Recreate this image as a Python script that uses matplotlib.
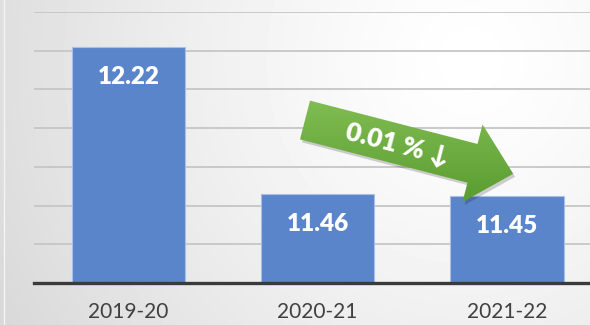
import numpy as np
import matplotlib
matplotlib.use("Agg")
import matplotlib.pyplot as plt
from matplotlib.patches import Polygon

years = ["2019-20", "2020-21", "2021-22"]
values = [12.22, 11.46, 11.45]
change_label = "0.01 % \u2193"

W, H = 590, 325
fig = plt.figure(figsize=(W / 100, H / 100), dpi=100)

# soft radial background
bg = fig.add_axes([0, 0, 1, 1], zorder=0)
yy, xx = np.mgrid[0:H, 0:W]
d = np.hypot(xx - 470, yy - 60) / 560.0
shade = 1.0 - 0.16 * np.clip(d, 0, 1.2) ** 1.3
bg.imshow(shade, cmap="gray", vmin=0, vmax=1, extent=[0, W, H, 0], aspect="auto")
bg.plot([3.5, 3.5], [0, H], color="#f4f4f4", lw=1.0)
bg.set_xlim(0, W)
bg.set_ylim(H, 0)
bg.axis("off")

# bar chart
ax = fig.add_axes([34 / W, 42 / H, (W - 34) / W, (283 - 12) / H], zorder=1)
ax.patch.set_alpha(0)
x = np.arange(len(years))
bars = ax.bar(x, values, width=0.6, color="#5b85cb", edgecolor="#a8c0e6",
              linewidth=0.8, zorder=3)
ax.set_xlim(-0.5, 2.44)
ax.set_ylim(11.0, 12.4)
ax.set_yticks(np.arange(11.0, 12.41, 0.2))
ax.yaxis.grid(True, color="#c6c6c6", lw=1.3, zorder=1)
ax.set_axisbelow(True)
ax.tick_params(axis="y", left=False, labelleft=False)
ax.tick_params(axis="x", length=0, pad=14, labelsize=15, labelcolor="#404040")
ax.set_xticks(x)
ax.set_xticklabels(years, fontfamily="Lato")
for s in ax.spines.values():
    s.set_visible(False)
ax.axhline(11.0, color="#3a3a3a", lw=2.4, zorder=4, clip_on=False)

for xi, v in zip(x, values):
    ax.annotate(f"{v:.2f}", (xi, v), xytext=(0, -21.5), textcoords="offset points",
                ha="center", va="center", color="white", fontsize=17.5,
                fontweight="heavy", fontfamily="Lato", zorder=5)

# green change arrow
ov = fig.add_axes([0, 0, 1, 1], zorder=2)
ov.set_xlim(0, W)
ov.set_ylim(H, 0)
ov.axis("off")
ov.patch.set_alpha(0)

theta = np.deg2rad(14.5)
u = np.array([np.cos(theta), np.sin(theta)])
n = np.array([-np.sin(theta), np.cos(theta)])
T = np.array([305.0, 120.0])
L, Lb, bw, hw = 215.0, 173.0, 20.0, 40.0
pts = np.array([T - bw * n, T + Lb * u - bw * n, T + Lb * u - hw * n,
                T + L * u, T + Lb * u + hw * n, T + Lb * u + bw * n, T + bw * n])

shadow = Polygon(pts + np.array([2.0, 3.0]), closed=True, facecolor="black",
                 alpha=0.18, edgecolor="none")
ov.add_patch(shadow)

gy = np.linspace(0, 1, 200)[:, None] * np.ones((1, 2))
top_c = np.array([0x80, 0xbd, 0x52]) / 255
bot_c = np.array([0x5a, 0x9c, 0x30]) / 255
grad = top_c[None, None, :] * (1 - gy[..., None]) + bot_c[None, None, :] * gy[..., None]
ymin, ymax = pts[:, 1].min(), pts[:, 1].max()
xmin, xmax = pts[:, 0].min(), pts[:, 0].max()
im = ov.imshow(grad, extent=[xmin, xmax, ymax, ymin], aspect="auto", zorder=3)
clip = Polygon(pts, closed=True, facecolor="none", edgecolor="none")
ov.add_patch(clip)
im.set_clip_path(clip)

ov.text(397, 145, change_label, rotation=-14.5, rotation_mode="anchor",
        ha="center", va="center", color="white", fontsize=19, fontweight="heavy",
        fontfamily=["Lato", "DejaVu Sans"], zorder=4)
ov.set_xlim(0, W)
ov.set_ylim(H, 0)

fig.savefig("out.png", dpi=100)
